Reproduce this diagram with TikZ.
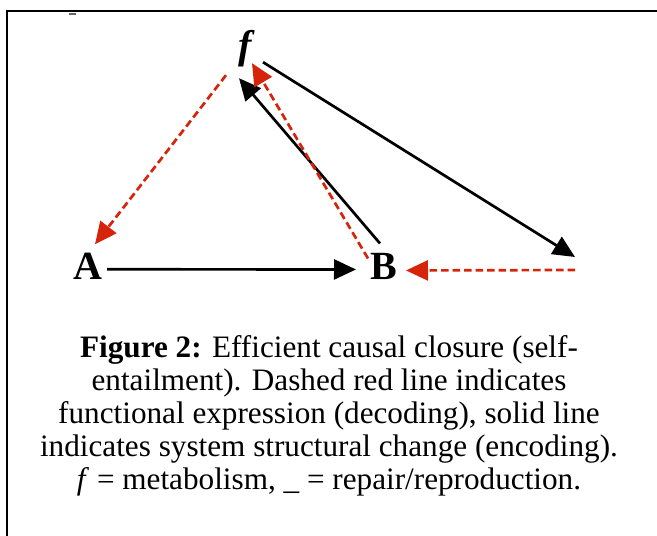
\documentclass[tikz,border=0pt]{standalone}
\usepackage{fontspec}
\setmainfont{Liberation Serif}
\usetikzlibrary{arrows.meta}
\definecolor{dred}{RGB}{214,36,10}
\begin{document}
\begin{tikzpicture}[x=1pt,y=-1pt,
  lbl/.style={inner sep=0pt, anchor=base, font=\fontsize{40}{40}\selectfont\bfseries},
  solidarr/.style={line width=2.7pt, black, -{Triangle[length=22pt,width=20pt]}},
  dasharr/.style={line width=2.7pt, dred, dash pattern=on 7.5pt off 4pt, -{Triangle[length=22pt,width=20pt]}},
  frame/.style={line width=2.5pt, black},
  capt/.style={font=\fontsize{31.2}{33}\selectfont, align=center, inner sep=0pt, anchor=base}
]
\path[use as bounding box] (0,0) rectangle (657,536);
\draw[frame] (657,11) -- (7,11) -- (7,536);
\draw[line width=1.5pt, black!60] (69,14) -- (76,14);

\node[lbl] (f) at (245,58) {\itshape f};
\node[lbl] (A) at (88,279) {A};
\node[lbl] (B) at (384,279) {B};
\coordinate (R) at (575,270);

\draw[solidarr] ([shift={(19,3.5)}]A.center) -- ([shift={(-28,3.5)}]B.center);
\draw[solidarr] ([shift={(-4,-22.5)}]B.center) -- ([shift={(-6,30)}]f.center);
\draw[dasharr] ([shift={(-16,-7.5)}]B.center) -- ([shift={(7,15)}]f.center);
\draw[solidarr] ([shift={(18,14)}]f.center) -- ([shift={(0,-13)}]R);
\draw[dasharr] (R) -- ([shift={(22,4.5)}]B.center);
\draw[dasharr] ([shift={(-19,27)}]f.center) -- ([shift={(7,-21.5)}]A.center);

\node[capt] (cap) at (329,489) {\textbf{Figure 2:} Efficient causal closure (self-\\entailment). Dashed red line indicates\\functional expression (decoding), solid line\\indicates system structural change (encoding).\\\textit{f} = metabolism, \_ = repair/reproduction.};
\end{tikzpicture}
\end{document}
